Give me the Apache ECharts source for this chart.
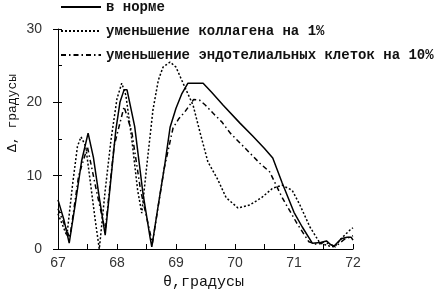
<!DOCTYPE html>
<html>
<head>
<meta charset="utf-8">
<script src="https://cdn.jsdelivr.net/npm/echarts@6/dist/echarts.min.js"></script>
<style>html,body{margin:0;padding:0;background:#fff;}#c{width:443px;height:296px;}</style>
</head>
<body>
<div id="c"></div>
<script>
var seriesNames = ['в норме', 'уменьшение коллагена на 1%', 'уменьшение эндотелиальных клеток на 10%'];
var xTicks = [67, 68, 69, 70, 71, 72];
var yTicks = [0, 10, 20, 30];

var normX = [67.0,67.1,67.19,67.3,67.4,67.51,67.6,67.7,67.8,67.9,67.98,68.05,68.12,68.17,68.3,68.44,68.56,68.59,68.7,68.81,68.9,69.0,69.1,69.2,69.46,69.6,69.8,70.08,70.3,70.5,70.64,70.8,71.0,71.14,71.31,71.45,71.55,71.62,71.68,71.8,71.9,71.97,72.0];
var normY = [6.7,4.0,0.8,6.5,12.0,15.8,12.5,7.0,1.9,9.8,16.2,20.0,21.7,21.7,16.7,7.6,1.6,0.3,6.0,11.5,16.6,19.2,21.2,22.6,22.6,21.4,19.6,17.2,15.4,13.7,12.4,9.0,5.0,3.0,0.8,0.9,1.1,0.6,0.4,1.4,1.6,1.6,1.2];

var collX = [67.0,67.15,67.25,67.33,67.39,67.47,67.55,67.63,67.7,67.8,67.9,68.0,68.08,68.15,68.25,68.35,68.42,68.5,68.61,68.7,68.78,68.9,69.0,69.12,69.29,69.42,69.54,69.7,69.85,70.05,70.25,70.45,70.64,70.8,70.97,71.1,71.27,71.44,71.6,71.69,71.81,71.95,72.0];
var collY = [4.8,1.8,9.0,14.0,15.3,14.0,9.0,4.0,0.0,8.0,15.0,20.5,22.6,21.0,15.0,8.0,4.9,11.0,19.0,23.0,24.8,25.5,24.8,22.6,19.6,15.5,11.9,9.6,7.0,5.6,6.0,7.0,8.3,8.7,8.0,6.0,3.0,0.8,0.4,0.3,1.5,2.6,2.9];

var endoX = [67.0,67.1,67.2,67.35,67.5,67.65,67.8,67.95,68.12,68.25,68.4,68.6,68.8,68.95,69.05,69.15,69.3,69.4,69.5,69.63,69.78,69.92,70.08,70.25,70.42,70.59,70.8,71.05,71.25,71.4,71.5,71.6,71.7,71.85,72.0];
var endoY = [5.5,3.5,1.5,10.0,13.9,8.0,2.5,14.0,19.4,16.0,8.0,0.8,11.0,16.5,17.8,18.7,20.4,20.3,19.6,18.5,17.3,15.8,14.5,13.1,11.7,10.5,7.0,3.5,1.0,0.6,0.9,0.7,0.3,1.3,1.8];

function pairs(xs, ys) { return xs.map(function (x, i) { return [x, ys[i]]; }); }

var chart = echarts.init(document.getElementById('c'), null, {renderer: 'canvas'});
var labelFont = {color: '#333', fontFamily: 'Liberation Sans, Arial, sans-serif', fontSize: 14};
chart.setOption({
  animation: false,
  backgroundColor: '#fff',
  grid: {left: 58, right: 90, top: 29, bottom: 47},
  legend: {
    orient: 'vertical', left: 60, top: 0, padding: 0, itemWidth: 40, itemHeight: 12, itemGap: 10,
    itemStyle: {opacity: 0, borderWidth: 0},
    textStyle: {fontFamily: 'Liberation Mono, monospace', fontSize: 14, fontWeight: 'bold', color: '#111'},
    data: seriesNames
  },
  xAxis: {
    type: 'value', min: xTicks[0], max: xTicks[xTicks.length - 1], interval: 1,
    axisLine: {lineStyle: {color: '#000', width: 1}},
    axisTick: {inside: true, length: 5, lineStyle: {color: '#000'}},
    minorTick: {show: true, splitNumber: 2, length: 5, lineStyle: {color: '#000'}},
    splitLine: {show: false},
    axisLabel: Object.assign({margin: 7}, labelFont)
  },
  yAxis: [{
    type: 'value', min: yTicks[0], max: yTicks[yTicks.length - 1], interval: 10,
    axisLine: {show: true, lineStyle: {color: '#000', width: 1}},
    axisTick: {show: true, inside: false, length: 5, lineStyle: {color: '#000'}},
    splitLine: {show: false},
    axisLabel: Object.assign({margin: 16}, labelFont)
  }, {
    type: 'value', min: 0, max: 30, interval: 5, position: 'left',
    axisLine: {show: false},
    axisTick: {show: true, inside: true, length: 4, lineStyle: {color: '#000'}},
    axisLabel: {show: false},
    splitLine: {show: false}
  }],
  graphic: [{
    type: 'text', left: 163, top: 275,
    style: {text: 'θ,градусы', font: '15px "Liberation Mono", monospace', fill: '#111'}
  }, {
    type: 'text', x: 6, y: 152, rotation: Math.PI / 2,
    style: {text: 'Δ, градусы', font: '13px "Liberation Mono", monospace', fill: '#111', textVerticalAlign: 'top'}
  }],
  series: [{
    name: seriesNames[0], type: 'line', data: pairs(normX, normY), symbol: 'none',
    lineStyle: {color: '#000', width: 1.5, type: 'solid'}, itemStyle: {color: '#000'}
  }, {
    name: seriesNames[1], type: 'line', data: pairs(collX, collY), symbol: 'none',
    lineStyle: {color: '#000', width: 1.5, type: [2, 2]}, itemStyle: {color: '#000'}
  }, {
    name: seriesNames[2], type: 'line', data: pairs(endoX, endoY), symbol: 'none',
    lineStyle: {color: '#000', width: 1.5, type: [5, 3, 1.5, 3]}, itemStyle: {color: '#000'}
  }]
});
</script>
</body>
</html>
